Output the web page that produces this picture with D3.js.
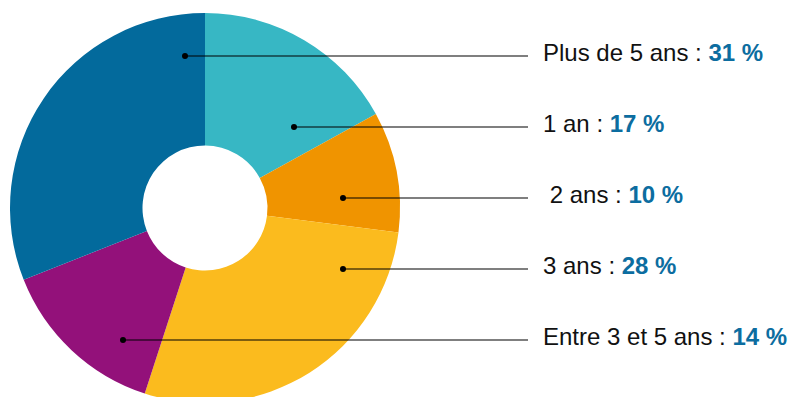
<!DOCTYPE html>
<html>
<head>
<meta charset="utf-8">
<script src="https://cdn.jsdelivr.net/npm/d3@7"></script>
<style>
  body { margin: 0; background: #fff; }
  svg text { font-family: "Liberation Sans", Arial, sans-serif; white-space: pre; }
</style>
</head>
<body>
<div id="chart"></div>
<script>
// data, clockwise from 12 o'clock
const categories = ['1 an', ' 2 ans', '3 ans', 'Entre 3 et 5 ans', 'Plus de 5 ans'];
const values = [17, 10, 28, 14, 31];
const colors = ['#37b7c4', '#f09400', '#fbbb1e', '#93117a', '#036a9c'];

// labels are listed top to bottom in this order
const labelOrder = ['Plus de 5 ans', '1 an', ' 2 ans', '3 ans', 'Entre 3 et 5 ans'];
// x of the little dot inside each slice (layout only)
const anchorX = [185, 294, 343, 343, 123];

const width = 793, height = 397;
const cx = 205, cy = 208;
const outerR = 195, innerR = 62.5;

const svg = d3.select('#chart')
    .append('svg')
    .attr('width', width)
    .attr('height', height);

const pie = d3.pie()
    .value(d => d.value)
    .sort(null);

const arc = d3.arc()
    .innerRadius(innerR)
    .outerRadius(outerR);

const slices = categories.map((c, i) => ({ name: c, value: values[i], color: colors[i] }));

svg.append('g')
    .attr('transform', `translate(${cx},${cy})`)
    .selectAll('path')
    .data(pie(slices))
    .enter()
    .append('path')
    .attr('d', arc)
    .attr('fill', d => d.data.color);

// label rows
const y = d3.scalePoint()
    .domain(labelOrder)
    .range([56, 340]);

const lineEnd = 528, textX = 543;

const rows = svg.append('g')
    .selectAll('g')
    .data(labelOrder)
    .enter()
    .append('g');

rows.append('line')
    .attr('x1', (d, i) => anchorX[i])
    .attr('x2', lineEnd)
    .attr('y1', d => y(d))
    .attr('y2', d => y(d))
    .attr('stroke', '#000')
    .attr('stroke-width', 1.2);

rows.append('circle')
    .attr('cx', (d, i) => anchorX[i])
    .attr('cy', d => y(d))
    .attr('r', 3)
    .attr('fill', '#000');

const txt = rows.append('text')
    .attr('x', textX)
    .attr('y', d => y(d) + 5)
    .attr('font-size', '24px')
    .attr('fill', '#111');

txt.append('tspan')
    .text(d => d + ' : ');

txt.append('tspan')
    .attr('font-weight', 'bold')
    .attr('fill', '#0c6da0')
    .text(d => values[categories.indexOf(d)] + ' %');
</script>
</body>
</html>
